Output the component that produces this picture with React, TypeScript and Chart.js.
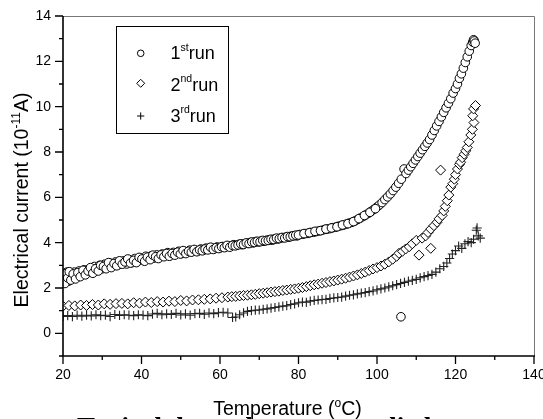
import React, { useEffect, useRef } from 'react';
import { Chart, registerables } from 'chart.js';

Chart.register(...registerables);

// [temperature (°C), current (1e-11 A)]
const run1Points: [number, number][] = [
  [20.0, 2.25], [20.3, 2.6], [20.7, 2.4], [21.0, 2.7], [21.4, 2.3], [21.8, 2.55], [22.3, 2.45], [22.9, 2.7],
  [23.5, 2.5], [24.1, 2.75], [24.8, 2.6], [25.4, 2.8], [26.0, 2.65], [26.7, 2.85], [27.3, 2.72], [28.0, 2.95],
  [28.6, 2.8], [29.3, 3.0], [30.0, 2.85], [30.6, 3.05], [31.3, 2.92], [32.0, 3.1], [32.7, 2.97], [33.4, 3.15],
  [34.1, 3.02], [34.8, 3.12], [35.5, 3.2], [36.2, 3.06], [36.9, 3.25], [37.6, 3.12], [38.3, 3.3], [39.0, 3.17],
  [39.7, 3.32], [40.4, 3.22], [41.1, 3.4], [41.8, 3.27], [42.5, 3.42], [43.2, 3.32], [43.9, 3.46], [44.6, 3.37],
  [45.3, 3.5], [46.0, 3.42], [46.7, 3.56], [47.4, 3.46], [48.1, 3.57], [48.8, 3.51], [49.5, 3.62], [50.2, 3.52],
  [50.9, 3.62], [51.6, 3.57], [52.3, 3.67], [53.0, 3.62], [53.7, 3.67], [54.4, 3.63], [55.1, 3.72], [55.8, 3.67],
  [56.5, 3.76], [57.2, 3.71], [57.9, 3.77], [58.6, 3.74], [59.3, 3.81], [60.0, 3.77], [60.7, 3.83], [61.4, 3.81],
  [62.1, 3.86], [62.8, 3.84], [63.5, 3.91], [64.2, 3.88], [64.9, 3.93], [65.6, 3.91], [66.3, 3.96], [67.0, 3.97],
  [67.7, 4.01], [68.4, 3.99], [69.1, 4.05], [69.8, 4.03], [70.5, 4.08], [71.2, 4.06], [71.9, 4.11], [72.6, 4.13],
  [73.3, 4.11], [74.0, 4.17], [74.7, 4.16], [75.4, 4.2], [76.1, 4.22], [76.8, 4.25], [77.5, 4.24], [78.2, 4.29],
  [78.9, 4.31], [79.6, 4.3], [80.3, 4.36], [81.0, 4.37], [81.7, 4.4], [82.4, 4.41], [83.1, 4.45], [83.8, 4.46],
  [84.5, 4.49], [85.2, 4.52], [85.9, 4.54], [86.6, 4.58], [87.3, 4.6], [88.0, 4.62], [88.7, 4.66], [89.4, 4.68],
  [90.1, 4.72], [90.8, 4.75], [91.5, 4.78], [92.2, 4.82], [92.9, 4.86], [93.6, 4.9], [94.3, 4.95], [95.0, 5.02],
  [95.7, 5.08], [96.4, 5.15], [97.1, 5.22], [97.8, 5.3], [98.5, 5.38], [99.2, 5.47], [99.9, 5.56], [100.6, 5.66],
  [101.3, 5.77], [102.0, 5.9], [102.7, 6.02], [103.4, 6.15], [104.1, 6.3], [104.8, 6.45], [105.5, 6.62], [106.1, 0.73],
  [106.2, 6.8], [106.9, 7.25], [107.4, 7.05], [108.0, 7.2], [108.6, 7.35], [109.2, 7.5], [109.8, 7.65], [110.4, 7.8],
  [111.0, 7.95], [111.6, 8.1], [112.2, 8.25], [112.8, 8.4], [113.4, 8.55], [114.0, 8.75], [114.6, 8.95], [115.2, 9.15],
  [115.8, 9.35], [116.4, 9.55], [117.0, 9.75], [117.6, 9.95], [118.2, 10.15], [118.8, 10.35], [119.4, 10.6], [120.0, 10.8],
  [120.5, 11.0], [121.0, 11.25], [121.5, 11.45], [122.0, 11.7], [122.5, 11.95], [123.0, 12.2], [123.5, 12.45], [124.0, 12.7],
  [124.4, 12.85], [124.6, 12.95], [124.8, 12.9], [125.0, 12.8],
];

// second, overlapping sweep of the 1st run (dense band at low temperature)
const run1SweepPoints: [number, number][] = [
  [20.2, 2.45], [20.5, 2.2], [20.9, 2.65], [21.2, 2.45], [21.6, 2.72], [22.0, 2.35], [22.6, 2.62], [23.2, 2.4],
  [23.8, 2.68], [24.4, 2.5], [25.1, 2.78], [25.7, 2.58], [26.4, 2.75], [27.0, 2.9], [27.6, 2.65], [28.3, 2.85],
  [29.0, 2.75], [29.6, 3.0], [30.3, 2.95], [31.0, 2.85], [31.6, 3.12], [32.3, 2.9], [33.0, 3.08], [33.7, 2.98],
  [34.4, 3.2], [35.1, 3.05], [35.8, 3.15], [36.5, 3.28], [37.2, 3.1], [38.0, 3.22], [38.7, 3.12], [39.4, 3.35],
  [40.1, 3.28], [40.8, 3.18], [41.5, 3.36], [42.2, 3.25], [42.9, 3.45], [43.6, 3.38], [44.3, 3.3], [45.0, 3.46],
  [45.7, 3.38], [46.4, 3.52], [47.1, 3.4], [47.8, 3.52], [48.5, 3.45], [49.2, 3.58], [49.9, 3.5], [50.6, 3.65],
  [51.3, 3.52], [52.0, 3.62], [52.7, 3.58], [53.4, 3.7], [54.1, 3.6], [54.8, 3.68], [55.5, 3.64], [56.2, 3.72],
  [56.9, 3.68], [57.6, 3.8], [58.3, 3.7], [59.0, 3.78], [59.7, 3.74], [60.4, 3.82], [61.1, 3.78], [61.8, 3.88],
  [62.5, 3.8], [63.2, 3.88], [63.9, 3.86], [64.6, 3.9], [65.3, 3.95], [66.0, 3.92], [66.7, 3.99], [67.4, 3.96],
  [68.1, 4.03], [68.8, 4.01], [69.5, 4.06], [70.2, 4.04], [70.9, 4.1], [71.6, 4.08], [72.3, 4.1], [73.0, 4.15],
  [73.7, 4.14], [74.4, 4.2], [75.1, 4.18], [75.8, 4.23], [76.5, 4.21], [77.2, 4.27], [77.9, 4.26], [78.6, 4.3],
  [79.3, 4.33], [80.0, 4.34], [81.4, 4.4], [82.8, 4.44], [84.2, 4.5], [85.6, 4.53], [87.0, 4.6], [88.4, 4.65],
  [89.8, 4.7], [91.2, 4.78], [92.6, 4.84], [94.0, 4.93], [95.4, 5.06], [96.8, 5.2], [98.2, 5.34], [99.6, 5.5],
];

const run2Points: [number, number][] = [
  [20.0, 1.2], [21.5, 1.23], [23.0, 1.21], [24.5, 1.25], [26.0, 1.23], [27.5, 1.27], [29.0, 1.25], [30.5, 1.3],
  [32.0, 1.28], [33.5, 1.31], [35.0, 1.32], [36.5, 1.3], [38.0, 1.35], [39.5, 1.33], [41.0, 1.38], [42.5, 1.36],
  [44.0, 1.4], [45.5, 1.38], [47.0, 1.42], [48.5, 1.4], [50.0, 1.45], [51.5, 1.43], [53.0, 1.47], [54.5, 1.48],
  [56.0, 1.5], [57.5, 1.52], [59.0, 1.55], [60.5, 1.57], [62.0, 1.6], [63.0, 1.62], [64.0, 1.63], [65.0, 1.65],
  [66.0, 1.67], [67.0, 1.68], [68.0, 1.7], [69.0, 1.72], [70.0, 1.75], [71.0, 1.77], [72.0, 1.79], [73.0, 1.82],
  [74.0, 1.84], [75.0, 1.86], [76.0, 1.89], [77.0, 1.91], [78.0, 1.94], [79.0, 1.96], [80.0, 1.99], [81.0, 2.02],
  [82.0, 2.06], [83.0, 2.1], [84.0, 2.14], [85.0, 2.17], [86.0, 2.21], [87.0, 2.24], [88.0, 2.28], [89.0, 2.31],
  [90.0, 2.35], [91.0, 2.39], [92.0, 2.43], [93.0, 2.48], [94.0, 2.53], [95.0, 2.58], [96.0, 2.64], [97.0, 2.7],
  [98.0, 2.77], [99.0, 2.84], [100.0, 2.9], [101.0, 2.97], [102.0, 3.05], [103.0, 3.15], [104.0, 3.27], [105.0, 3.4],
  [105.6, 3.53], [106.5, 3.62], [107.3, 3.72], [108.2, 3.82], [109.0, 3.95], [110.0, 4.1], [110.7, 3.45], [111.5, 4.2],
  [112.4, 4.3], [113.0, 4.45], [113.7, 3.75], [113.7, 4.6], [114.5, 4.75], [115.3, 4.9], [115.8, 5.05], [116.6, 5.2],
  [116.2, 7.2], [117.0, 5.4], [117.4, 5.6], [117.9, 5.85], [118.3, 6.1], [118.8, 6.45], [119.3, 6.6], [119.7, 6.8],
  [120.0, 7.0], [120.5, 7.25], [121.0, 7.45], [121.3, 7.55], [121.7, 7.75], [122.2, 7.9], [122.6, 8.05], [123.0, 8.2],
  [123.4, 8.45], [123.9, 8.75], [124.3, 9.0], [124.7, 9.3], [124.4, 9.6], [124.6, 9.9], [125.1, 10.05],
];

const run3Points: [number, number][] = [
  [20.0, 0.75], [21.2, 0.78], [22.4, 0.74], [23.6, 0.8], [24.8, 0.76], [26.0, 0.8], [27.2, 0.77], [28.4, 0.82],
  [29.6, 0.78], [30.8, 0.8], [32.0, 0.74], [33.2, 0.83], [34.4, 0.79], [35.6, 0.82], [36.8, 0.8], [38.0, 0.78],
  [39.2, 0.82], [40.4, 0.8], [41.6, 0.78], [42.8, 0.85], [44.0, 0.88], [45.2, 0.82], [46.4, 0.86], [47.6, 0.83],
  [48.8, 0.88], [50.0, 0.81], [51.2, 0.86], [52.4, 0.8], [53.6, 0.87], [54.8, 0.88], [56.0, 0.84], [57.2, 0.9],
  [58.4, 0.87], [59.6, 0.91], [60.8, 0.93], [62.0, 0.9], [63.2, 0.7], [64.0, 0.72], [65.0, 0.82], [66.0, 0.9],
  [67.0, 0.97], [68.0, 1.0], [69.0, 1.02], [70.0, 1.03], [71.0, 1.06], [72.0, 1.08], [73.0, 1.11], [74.0, 1.14],
  [75.0, 1.17], [76.0, 1.2], [77.0, 1.22], [78.0, 1.27], [79.0, 1.3], [80.0, 1.35], [81.0, 1.38], [82.0, 1.37],
  [83.0, 1.42], [84.0, 1.45], [85.0, 1.47], [86.0, 1.49], [87.0, 1.5], [88.0, 1.54], [89.0, 1.56], [90.0, 1.58],
  [91.0, 1.6], [92.0, 1.64], [93.0, 1.68], [94.0, 1.7], [95.0, 1.74], [96.0, 1.77], [97.0, 1.8], [98.0, 1.84],
  [99.0, 1.87], [100.0, 1.92], [101.0, 1.96], [102.0, 2.0], [103.0, 2.05], [104.0, 2.1], [105.0, 2.15], [106.0, 2.2],
  [107.0, 2.25], [108.0, 2.3], [109.0, 2.34], [110.0, 2.38], [111.0, 2.45], [112.0, 2.5], [113.0, 2.55], [114.0, 2.6],
  [115.0, 2.7], [116.0, 2.85], [117.0, 2.95], [117.8, 3.1], [118.5, 3.3], [119.2, 3.5], [120.0, 3.65], [120.8, 3.85],
  [121.6, 3.75], [122.4, 3.95], [123.2, 4.05], [124.0, 4.0], [124.6, 4.15], [125.3, 4.55], [125.8, 4.3], [126.3, 4.2],
  [125.5, 4.65],
];

const seriesLabels = ['1st run', '2nd run', '3rd run'];
const legendNumbers = ['1', '2', '3'];
const legendSuffixes = ['st', 'nd', 'rd'];
const legendWord = 'run';

const xMajorTicks = [20, 40, 60, 80, 100, 120, 140];
const xMinorTicks = [30, 50, 70, 90, 110, 130];
const yMajorTicks = [0, 2, 4, 6, 8, 10, 12, 14];
const yMinorTicks = [-1, 1, 3, 5, 7, 9, 11, 13];

const xTitleParts = ['Temperature (', 'o', 'C)'];
const yTitleParts = ['Electrical current (10', '-11', 'A)'];
const captionLead = 't.';
const captionText = 'Typical dependence on applied';

const SANS = "'Liberation Sans', Arial, Helvetica, sans-serif";
const SERIF = "'Liberation Serif', 'Times New Roman', serif";

function partsWidth(ctx: CanvasRenderingContext2D, parts: string[], mainFont: string, supFont: string) {
  let w = 0;
  parts.forEach((p, i) => {
    ctx.font = i % 2 === 1 ? supFont : mainFont;
    w += ctx.measureText(p).width;
  });
  return w;
}

function drawParts(ctx: CanvasRenderingContext2D, parts: string[], x0: number, y0: number, mainFont: string, supFont: string, rise: number) {
  let x = x0;
  ctx.textAlign = 'left';
  ctx.textBaseline = 'alphabetic';
  parts.forEach((p, i) => {
    const sup = i % 2 === 1;
    ctx.font = sup ? supFont : mainFont;
    ctx.fillText(p, x, sup ? y0 - rise : y0);
    x += ctx.measureText(p).width;
  });
}

function drawSymbol(ctx: CanvasRenderingContext2D, kind: number, cx: number, cy: number, r: number) {
  ctx.beginPath();
  if (kind === 0) {
    ctx.arc(cx, cy, r, 0, Math.PI * 2);
  } else if (kind === 1) {
    ctx.moveTo(cx, cy - r);
    ctx.lineTo(cx + r, cy);
    ctx.lineTo(cx, cy + r);
    ctx.lineTo(cx - r, cy);
    ctx.closePath();
  } else {
    ctx.moveTo(cx - r, cy);
    ctx.lineTo(cx + r, cy);
    ctx.moveTo(cx, cy - r);
    ctx.lineTo(cx, cy + r);
  }
  if (kind !== 2) {
    ctx.fillStyle = '#fff';
    ctx.fill();
  }
  ctx.stroke();
}

const decorPlugin = {
  id: 'decor',
  afterDraw(chart: any) {
    const { ctx, chartArea: a, scales } = chart;
    const xs = scales.x;
    const ys = scales.y;
    ctx.save();

    // caption remnant at the very bottom (clipped by the canvas edge)
    ctx.fillStyle = '#000';
    ctx.font = `bold 27px ${SERIF}`;
    ctx.textAlign = 'left';
    ctx.textBaseline = 'alphabetic';
    ctx.fillText(captionLead, 43, 436);
    ctx.fillText(captionText, 77, 436);

    // top / right frame
    ctx.strokeStyle = '#777';
    ctx.lineWidth = 1;
    ctx.beginPath();
    ctx.moveTo(a.left, a.top + 0.5);
    ctx.lineTo(a.right + 0.5, a.top + 0.5);
    ctx.lineTo(a.right + 0.5, a.bottom);
    ctx.stroke();

    // axes
    ctx.strokeStyle = '#000';
    ctx.lineWidth = 1.6;
    ctx.beginPath();
    ctx.moveTo(a.left, a.top);
    ctx.lineTo(a.left, a.bottom);
    ctx.lineTo(a.right + 1, a.bottom);
    ctx.stroke();

    // ticks
    ctx.lineWidth = 1.3;
    ctx.beginPath();
    xMajorTicks.forEach((v) => {
      const px = xs.getPixelForValue(v);
      ctx.moveTo(px, a.bottom);
      ctx.lineTo(px, a.bottom + 8);
    });
    xMinorTicks.forEach((v) => {
      const px = xs.getPixelForValue(v);
      ctx.moveTo(px, a.bottom);
      ctx.lineTo(px, a.bottom + 4);
    });
    yMajorTicks.forEach((v) => {
      const py = ys.getPixelForValue(v);
      ctx.moveTo(a.left, py);
      ctx.lineTo(a.left - 8, py);
    });
    yMinorTicks.forEach((v) => {
      const py = ys.getPixelForValue(v);
      ctx.moveTo(a.left, py);
      ctx.lineTo(a.left - 4, py);
    });
    ctx.stroke();

    // axis titles
    ctx.fillStyle = '#000';
    const mainF = `19.5px ${SANS}`;
    const supF = `12px ${SANS}`;
    const wx = partsWidth(ctx, xTitleParts, mainF, supF);
    drawParts(ctx, xTitleParts, 287.5 - wx / 2, 415, mainF, supF, 8);

    const wy = partsWidth(ctx, yTitleParts, mainF, supF);
    ctx.save();
    ctx.translate(27.5, 200);
    ctx.rotate(-Math.PI / 2);
    drawParts(ctx, yTitleParts, -wy / 2, 0, mainF, supF, 8);
    ctx.restore();

    // legend
    ctx.strokeStyle = '#000';
    ctx.lineWidth = 1;
    ctx.strokeRect(116.5, 26.5, 112, 107);
    const symY = [53.3, 83.3, 116];
    const textY = [59.3, 90.7, 121.7];
    const symR = [3.3, 4, 3.6];
    legendNumbers.forEach((n, i) => {
      ctx.lineWidth = 1;
      ctx.strokeStyle = '#000';
      drawSymbol(ctx, i, 140.7, symY[i], symR[i]);
      ctx.fillStyle = '#000';
      drawParts(ctx, [n, legendSuffixes[i], legendWord], 170.5, textY[i], `18px ${SANS}`, `10.5px ${SANS}`, 8.5);
    });

    ctx.restore();
  },
};

export default function App() {
  const canvasRef = useRef<HTMLCanvasElement | null>(null);

  useEffect(() => {
    const canvas = canvasRef.current;
    if (!canvas) return;
    const toXY = (pts: [number, number][]) => pts.map(([x, y]) => ({ x, y }));
    const chart = new Chart(canvas, {
      type: 'scatter',
      data: {
        datasets: [
          {
            label: seriesLabels[0],
            data: toXY([...run1Points, ...run1SweepPoints]),
            pointStyle: 'circle',
            pointRadius: 4.3,
            borderColor: '#000',
            backgroundColor: '#fff',
            borderWidth: 1,
          },
          {
            label: seriesLabels[1],
            data: toXY(run2Points),
            pointStyle: 'rectRot',
            pointRadius: 5,
            borderColor: '#000',
            backgroundColor: '#fff',
            borderWidth: 1,
          },
          {
            label: seriesLabels[2],
            data: toXY(run3Points),
            pointStyle: 'cross',
            pointRadius: 4.6,
            borderColor: '#222',
            backgroundColor: '#222',
            borderWidth: 1.1,
          },
        ],
      },
      options: {
        responsive: false,
        animation: false,
        devicePixelRatio: 1,
        events: [],
        layout: { padding: { top: 16, right: 9, left: 0, bottom: 0 } },
        plugins: {
          legend: { display: false },
          tooltip: { enabled: false },
          title: { display: false },
        },
        scales: {
          x: {
            type: 'linear',
            min: 20,
            max: 140,
            grid: { display: false, drawTicks: true, tickLength: 8 },
            border: { display: false },
            ticks: {
              color: '#000',
              font: { family: SANS, size: 14 },
              padding: 3,
              maxRotation: 0,
              autoSkip: false,
            },
            afterBuildTicks: (s: any) => {
              s.ticks = xMajorTicks.map((value) => ({ value }));
            },
            afterFit: (s: any) => {
              s.height = 63;
              s.paddingLeft = 0;
              s.paddingRight = 0;
            },
          },
          y: {
            type: 'linear',
            min: -1,
            max: 14,
            grid: { display: false, drawTicks: true, tickLength: 8 },
            border: { display: false },
            ticks: {
              color: '#000',
              font: { family: SANS, size: 14 },
              padding: 4,
              autoSkip: false,
            },
            afterBuildTicks: (s: any) => {
              s.ticks = yMajorTicks.map((value) => ({ value }));
            },
            afterFit: (s: any) => {
              s.width = 63;
              s.paddingTop = 0;
              s.paddingBottom = 0;
            },
          },
        },
      },
      plugins: [decorPlugin],
    });
    return () => chart.destroy();
  }, []);

  return (
    <div style={{ position: 'fixed', left: 0, top: 0, width: 543, height: 419, background: '#fff', overflow: 'hidden' }}>
      <canvas ref={canvasRef} width={543} height={419} style={{ display: 'block' }} />
    </div>
  );
}
